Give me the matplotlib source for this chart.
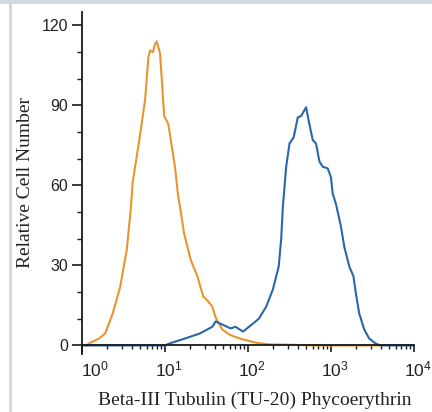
import numpy as np
import matplotlib
matplotlib.use("Agg")
import matplotlib.pyplot as plt
from matplotlib.ticker import FixedLocator, FixedFormatter, NullFormatter
from matplotlib.transforms import ScaledTranslation
from matplotlib.patches import Rectangle

plt.rcParams['mathtext.fontset'] = 'custom'
plt.rcParams['mathtext.rm'] = 'Liberation Sans'
plt.rcParams['mathtext.it'] = 'Liberation Sans'

# isotype control (orange): log10 intensity, cell count
ctrl_log = [0.05, 0.10, 0.20, 0.28, 0.37, 0.46, 0.54, 0.59, 0.61, 0.69, 0.76,
            0.80, 0.82, 0.855, 0.88, 0.90, 0.94, 0.965, 0.99, 1.04, 1.07,
            1.12, 1.16, 1.18, 1.23, 1.31, 1.39, 1.46, 1.52, 1.57, 1.61,
            1.69, 1.78, 1.90, 2.10, 2.27, 2.60, 2.80, 3.60]
ctrl_cnt = [0, 1, 2.5, 4.5, 12, 22, 36, 52, 61, 77, 92,
            108, 110.6, 110, 113, 114, 109.5, 98, 86, 83, 77,
            67, 55.5, 52, 42, 32, 26, 18.4, 16.5, 14.6, 10.5,
            6, 4, 2.6, 1, 0.4, 0.2, 0, 0]

# Beta-III Tubulin (TU-20) stained (blue)
stain_log = [0.0, 1.00, 1.05, 1.24, 1.42, 1.57, 1.61, 1.79, 1.85, 1.94, 2.06,
             2.13, 2.22, 2.30, 2.37, 2.40, 2.42, 2.46, 2.50, 2.55, 2.60,
             2.64, 2.70, 2.73, 2.78, 2.82, 2.86, 2.90, 2.96, 3.00, 3.02,
             3.06, 3.12, 3.16, 3.22, 3.27, 3.30, 3.34, 3.40, 3.46, 3.54,
             3.60, 4.0]
stain_cnt = [0, 0, 0.7, 2.6, 4.5, 7, 9, 6.4, 7, 5.2, 8.2,
             10, 14.6, 21, 29.6, 40, 52, 67, 75.7, 78, 85.5,
             86, 89.3, 84.4, 77, 75.7, 69, 67, 66.4, 63, 57,
             53, 44.6, 37, 29.6, 26, 19.5, 12, 6, 2.6, 0.7,
             0, 0]

xticks = [1, 10, 100, 1000, 10000]
xticklabels = [r'$10^0$', r'$10^1$', r'$10^2$', r'$10^3$', r'$10^4$']
yticks = [0, 30, 60, 90, 120]
yminor = [10, 20, 40, 50, 70, 80, 100, 110]

fig = plt.figure(figsize=(4.32, 4.12), dpi=100)
ax = fig.add_axes([82/432, 58/412, 332/432, 342/412])

ax.plot(10**np.array(ctrl_log), ctrl_cnt, color='#E8952F', lw=1.5)
ax.plot(10**np.array(stain_log), stain_cnt, color='#2B66A8', lw=1.5)

ax.set_xscale('log')
ax.set_xlim(1, 1e4)
ax.set_ylim(-3.2, 125)

for s in ['top', 'right']:
    ax.spines[s].set_visible(False)
ax.spines['bottom'].set_position(('data', 0))
for s in ['bottom', 'left']:
    ax.spines[s].set_linewidth(1.3)
    ax.spines[s].set_color('#1a1a1a')

ax.xaxis.set_major_locator(FixedLocator(xticks))
ax.xaxis.set_major_formatter(FixedFormatter(xticklabels))
minors = [m * d for d in [1, 10, 100, 1000] for m in range(2, 10)]
ax.xaxis.set_minor_locator(FixedLocator(minors))
ax.xaxis.set_minor_formatter(NullFormatter())
ax.yaxis.set_major_locator(FixedLocator(yticks))
ax.yaxis.set_minor_locator(FixedLocator(yminor))

ax.tick_params(axis='x', which='major', length=5, width=1.2, color='#1a1a1a',
               labelsize=12.5, pad=6, labelcolor='#222222')
ax.tick_params(axis='x', which='minor', length=3, width=1.0, color='#1a1a1a')
ax.tick_params(axis='y', which='major', length=7, width=1.2, color='#1a1a1a',
               labelsize=11.5, pad=3, labelcolor='#222222')
ax.tick_params(axis='y', which='minor', length=3.5, width=1.0, color='#1a1a1a')
for lbl in ax.get_yticklabels():
    lbl.set_fontfamily('Liberation Sans')

# shift x tick labels so the "10" sits over the tick
shifts = [13, 4, 4, 4, 4]
for lbl, dx in zip(ax.get_xticklabels(), shifts):
    lbl.set_transform(lbl.get_transform() + ScaledTranslation(dx/100, 0, fig.dpi_scale_trans))

ax.set_xlabel('Beta-III Tubulin (TU-20) Phycoerythrin', family='Liberation Serif',
              fontsize=14, color='#222222')
ax.xaxis.set_label_coords(0.52, -0.11)
ax.set_ylabel('Relative Cell Number', family='Liberation Serif', fontsize=14,
              color='#222222')
ax.yaxis.set_label_coords(-0.145, 0.5)

# page frame around the figure
fig.add_artist(Rectangle((0, 408/412), 1, 4/412, transform=fig.transFigure,
                         color='#d3d8de', lw=0))
fig.add_artist(Rectangle((9/432, 0), 3/432, 408/412, transform=fig.transFigure,
                         color='#d9d9d9', lw=0))

fig.savefig('out.png', dpi=100)
